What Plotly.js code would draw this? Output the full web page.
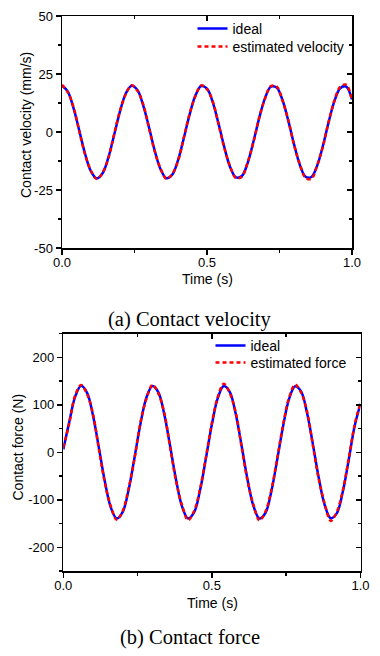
<!DOCTYPE html>
<html>
<head>
<meta charset="utf-8">
<script src="https://cdn.plot.ly/plotly-3.0.1.min.js"></script>
<style>html,body{margin:0;padding:0;background:#fff;}#chart{width:380px;height:656px;}</style>
</head>
<body>
<div id="chart"></div>
<script>
// ---- data ----
const time = [0.00,0.02,0.04,0.06,0.08,0.10,0.12,0.14,0.16,0.18,0.20,0.22,0.24,0.26,0.28,0.30,0.32,0.34,0.36,0.38,0.40,0.42,0.44,0.46,0.48,0.50,0.52,0.54,0.56,0.58,0.60,0.62,0.64,0.66,0.68,0.70,0.72,0.74,0.76,0.78,0.80,0.82,0.84,0.86,0.88,0.90,0.92,0.94,0.96,0.98,1.00];

const velocityIdeal = [20.0,17.4,10.2,0.4,-9.6,-17.0,-20.0,-17.8,-10.9,-1.2,8.9,16.6,19.9,18.1,11.5,2.0,-8.2,-16.1,-19.9,-18.4,-12.2,-2.7,7.5,15.7,19.8,18.7,12.8,3.5,-6.7,-15.2,-19.6,-19.0,-13.4,-4.2,6.0,14.6,19.5,19.2,13.9,5.0,-5.2,-14.1,-19.3,-19.4,-14.5,-5.8,4.5,13.5,19.0,19.6,14.0];
const velocityEstimated = [20.3,17.1,10.6,0.1,-9.9,-16.7,-20.3,-17.5,-11.2,-0.8,9.2,16.3,20.2,17.8,11.9,1.7,-8.5,-15.8,-20.2,-18.1,-12.5,-2.4,7.9,15.4,20.1,18.4,13.1,3.2,-7.0,-14.9,-19.9,-19.3,-13.1,-4.5,6.3,14.3,19.8,19.6,13.6,5.3,-5.5,-13.8,-19.8,-20.2,-14.2,-6.1,4.8,13.8,19.6,20.4,13.6];

const forceIdeal = [6,63.4,117.2,139.8,125.1,77.1,8.6,-62.2,-116.5,-139.7,-125.7,-78.2,-9.8,61.1,115.8,139.6,126.2,79.2,11.1,-60.0,-115.1,-139.5,-126.8,-80.3,-12.4,58.8,114.4,139.4,127.3,81.3,13.6,-57.7,-113.6,-139.3,-127.9,-82.4,-14.9,56.5,112.9,139.1,128.3,83.3,16.1,-55.4,-112.1,-139.0,-128.8,-84.4,-17.4,54.2,102];
const forceEstimated = [10,60.5,119.8,141.5,122.4,79.9,5.6,-65.1,-113.8,-142.3,-123.0,-75.4,-12.6,64.0,113.2,141.8,123.5,82.0,8.3,-62.8,-112.4,-143.0,-124.1,-77.6,-9.7,61.6,117.2,144.2,124.6,84.1,10.9,-60.5,-110.9,-143.6,-125.2,-79.7,-12.1,59.3,115.6,142.4,125.6,86.1,13.4,-58.2,-109.4,-144.5,-126.0,-81.7,-14.6,57.0,104];

const xTickVals = [0, 0.5, 1.0];
const xTickText = ["0.0", "0.5", "1.0"];
const vTickVals = [-50, -25, 0, 25, 50];
const vTickText = ["-50", "-25", "0", "25", "50"];
const fTickVals = [-200, -100, 0, 100, 200];
const fTickText = ["-200", "-100", "0", "100", "200"];
const vMinor = [-37.5, -12.5, 12.5, 37.5];
const fMinor = [-250, -150, -50, 50, 150, 250];

// ---- styles ----
const W = 380, H = 656;
const sans = "Arial, 'Liberation Sans', sans-serif";
const serif = "'Times New Roman', 'Liberation Serif', serif";
const blue = "#0000ff", red = "#ff0000";

const topDom = {x:[62/W, 352/W], y:[1-248/H, 1-16/H]};
const botDom = {x:[63.3/W, 360.5/W], y:[1-571/H, 1-333.5/H]};

const traces = [
  {x: time, y: velocityIdeal, xaxis:'x', yaxis:'y', name:'ideal', mode:'lines',
   line:{color:blue, width:2.5, shape:'spline', smoothing:1}, legend:'legend'},
  {x: time, y: velocityEstimated, xaxis:'x', yaxis:'y', name:'estimated velocity', mode:'lines',
   line:{color:red, width:2.5, dash:'4px,3px', shape:'spline', smoothing:1}, legend:'legend2'},
  {x: time, y: forceIdeal, xaxis:'x2', yaxis:'y2', name:'ideal', mode:'lines',
   line:{color:blue, width:2.5, shape:'spline', smoothing:1}, legend:'legend3'},
  {x: time, y: forceEstimated, xaxis:'x2', yaxis:'y2', name:'estimated force', mode:'lines',
   line:{color:red, width:2.5, dash:'4px,3px', shape:'spline', smoothing:1}, legend:'legend4'},
  // helper (empty) traces that carry the mirrored inner-tick axes
  {x: [], y: [], xaxis:'x3', yaxis:'y3', showlegend:false, hoverinfo:'skip', mode:'lines'},
  {x: [], y: [], xaxis:'x4', yaxis:'y4', showlegend:false, hoverinfo:'skip', mode:'lines'}
];

const tickCommon = {tickwidth:1.5, tickcolor:'#000', showline:true, linecolor:'#000', linewidth:1.5,
  showgrid:false, zeroline:false, automargin:false, fixedrange:true};

function mainX(dom, anchor){
  return Object.assign({domain: dom, anchor: anchor, range:[0,1], tickmode:'array', tickvals: xTickVals, ticktext: xTickText,
    ticks:'outside', ticklen:5, ticklabelstandoff:-3,
    minor:{tickvals:[0.25,0.75], ticks:'outside', ticklen:3, tickwidth:1.5, tickcolor:'#000', showgrid:false},
    tickfont:{family:sans, size:13, color:'#000'}}, tickCommon);
}
function mainY(dom, anchor, range, tv, tt, minorTv){
  return Object.assign({domain: dom, anchor: anchor, range: range, tickmode:'array', tickvals: tv, ticktext: tt,
    ticks:'outside', ticklen:5,
    minor:{tickvals:minorTv, ticks:'outside', ticklen:3, tickwidth:1.5, tickcolor:'#000', showgrid:false},
    tickfont:{family:sans, size:13, color:'#000'}}, tickCommon);
}
function mirrorX(dom, anchor, overlay){
  return Object.assign({domain: dom, anchor: anchor, overlaying: overlay, side:'top', range:[0,1],
    tickmode:'array', tickvals: xTickVals, showticklabels:false, ticks:'inside', ticklen:5,
    minor:{tickvals:[0.25,0.75], ticks:'inside', ticklen:3, tickwidth:1.5, tickcolor:'#000', showgrid:false}}, tickCommon);
}
function mirrorY(dom, anchor, overlay, range, tv, minorTv){
  return Object.assign({domain: dom, anchor: anchor, overlaying: overlay, side:'right', range: range,
    tickmode:'array', tickvals: tv, showticklabels:false, ticks:'inside', ticklen:5,
    minor:{tickvals:minorTv, ticks:'inside', ticklen:3, tickwidth:1.5, tickcolor:'#000', showgrid:false}}, tickCommon);
}
function leg(xpx, ypx){
  return {x:xpx/W, y:1-ypx/H, xanchor:'left', yanchor:'top', bgcolor:'rgba(0,0,0,0)', borderwidth:0,
    font:{family:sans, size:14, color:'#000'}, itemwidth:30};
}
function ann(text, xpx, ypx, font, angle){
  return {text:text, xref:'paper', yref:'paper', x:xpx/W, y:1-ypx/H, xanchor:'center', yanchor:'middle',
    showarrow:false, textangle: angle || 0, font:font, borderpad:0};
}
const axisTitleFont = {family:sans, size:14, color:'#000'};
const captionFont = {family:serif, size:20.5, color:'#000'};

const layout = {
  width: W, height: H,
  margin:{l:0, r:0, t:0, b:0},
  paper_bgcolor:'#fff', plot_bgcolor:'rgba(0,0,0,0)',
  showlegend:true,
  xaxis: mainX(topDom.x, 'y'),
  yaxis: mainY(topDom.y, 'x', [-50,50], vTickVals, vTickText, vMinor),
  xaxis2: mainX(botDom.x, 'y2'),
  yaxis2: mainY(botDom.y, 'x2', [-250,250], fTickVals, fTickText, fMinor),
  xaxis3: mirrorX(topDom.x, 'y3', 'x'),
  yaxis3: mirrorY(topDom.y, 'x3', 'y', [-50,50], vTickVals, vMinor),
  xaxis4: mirrorX(botDom.x, 'y4', 'x2'),
  yaxis4: mirrorY(botDom.y, 'x4', 'y2', [-250,250], fTickVals, fMinor),
  legend: leg(192.5, 13),
  legend2: leg(192.5, 31),
  legend3: leg(210.5, 330),
  legend4: leg(210.5, 347),
  annotations:[
    ann('Time (s)', 207, 279, axisTitleFont),
    ann('Time (s)', 212.5, 603, axisTitleFont),
    ann('Contact velocity (mm/s)', 26, 125, axisTitleFont, -90),
    ann('Contact force (N)', 17.5, 447, axisTitleFont, -90),
    ann('(a) Contact velocity', 190, 319, captionFont),
    ann('(b) Contact force', 190, 637, captionFont)
  ]
};

Plotly.newPlot('chart', traces, layout, {staticPlot:true, displayModeBar:false});
</script>
</body>
</html>
